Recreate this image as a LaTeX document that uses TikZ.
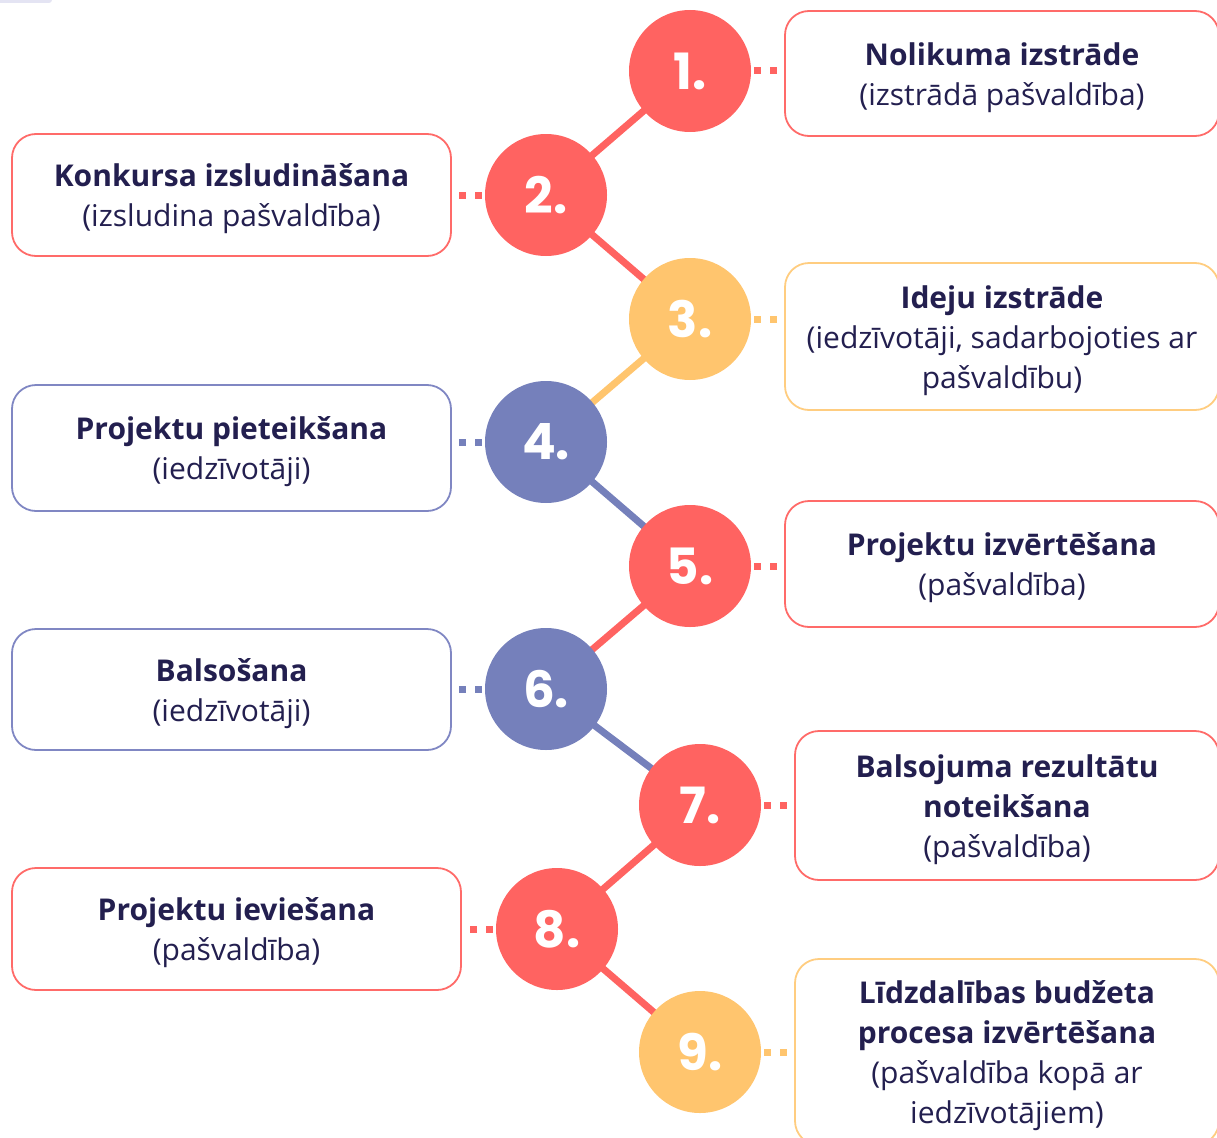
\documentclass[tikz,border=0pt]{standalone}
\usepackage{fontspec}
\setmainfont{Open Sans}
\newfontfamily\numfont{Poppins}
\usetikzlibrary{backgrounds}
\definecolor{cred}{HTML}{FF6361}
\definecolor{cyel}{HTML}{FFC56E}
\definecolor{cblue}{HTML}{7580BB}
\definecolor{bred}{HTML}{FF6B69}
\definecolor{byel}{HTML}{FFCD80}
\definecolor{bblue}{HTML}{8087C3}
\definecolor{navy}{HTML}{231F4F}
\definecolor{lav}{HTML}{E4E4F3}
\tikzset{
  stepcirc/.style={circle, fill=#1, minimum size=122pt, inner sep=0pt,
    text=white, font=\numfont\bfseries\fontsize{50}{50}\selectfont},
  stepbox/.style={draw=#1, line width=1.8pt, rounded corners=24pt, inner sep=0pt},
  steptext/.style={text=navy, align=center, inner sep=0pt, yshift=-4pt,
    font=\fontsize{30}{40}\selectfont},
  link/.style={line width=7pt, draw=#1},
  dots/.style={line width=7pt, draw=#1, dash pattern=on 0pt off 3pt on 7pt off 9pt on 7pt off 40pt}
}
\begin{document}
\begin{tikzpicture}[x=1pt,y=-1pt]
\useasboundingbox (0,0) rectangle (1217,1137);
\clip (0,0) rectangle (1217,1137);
\fill[lav, rounded corners=3pt] (-10,-10) rectangle (52,3);

% circles
\node[stepcirc=cred]  (c1) at (690,71)   {1.};
\node[stepcirc=cred]  (c2) at (546,195)  {2.};
\node[stepcirc=cyel]  (c3) at (690,319)  {3.};
\node[stepcirc=cblue] (c4) at (546,442)  {4.};
\node[stepcirc=cred]  (c5) at (690,566)  {5.};
\node[stepcirc=cblue] (c6) at (546,689)  {6.};
\node[stepcirc=cred]  (c7) at (700,805)  {7.};
\node[stepcirc=cred]  (c8) at (557,929)  {8.};
\node[stepcirc=cyel]  (c9) at (700,1052) {9.};

% boxes
\node[stepbox=bred,  minimum width=434pt, minimum height=125pt] (b1) at (1002,73.5) {};
\node[stepbox=bred,  minimum width=439pt, minimum height=122pt] (b2) at (231.5,195) {};
\node[stepbox=byel,  minimum width=434pt, minimum height=147pt] (b3) at (1002,336.5) {};
\node[stepbox=bblue, minimum width=439pt, minimum height=126pt] (b4) at (231.5,448) {};
\node[stepbox=bred,  minimum width=434pt, minimum height=126pt] (b5) at (1002,564) {};
\node[stepbox=bblue, minimum width=439pt, minimum height=121pt] (b6) at (231.5,689.5) {};
\node[stepbox=bred,  minimum width=424pt, minimum height=149pt] (b7) at (1007,805.5) {};
\node[stepbox=bred,  minimum width=449pt, minimum height=122pt] (b8) at (236.5,929) {};
\node[stepbox=byel,  minimum width=424pt, minimum height=186pt] (b9) at (1007,1052) {};

% box texts
\node[steptext] (t1) at (b1.center) {\textbf{Nolikuma izstrāde}\\(izstrādā pašvaldība)};
\node[steptext] (t2) at (b2.center) {\textbf{Konkursa izsludināšana}\\(izsludina pašvaldība)};
\node[steptext] (t3) at (b3.center) {\textbf{Ideju izstrāde}\\(iedzīvotāji, sadarbojoties ar\\pašvaldību)};
\node[steptext] (t4) at (b4.center) {\textbf{Projektu pieteikšana}\\(iedzīvotāji)};
\node[steptext] (t5) at (b5.center) {\textbf{Projektu izvērtēšana}\\(pašvaldība)};
\node[steptext] (t6) at (b6.center) {\textbf{Balsošana}\\(iedzīvotāji)};
\node[steptext] (t7) at (b7.center) {\textbf{Balsojuma rezultātu}\\\textbf{noteikšana}\\(pašvaldība)};
\node[steptext] (t8) at (b8.center) {\textbf{Projektu ieviešana}\\(pašvaldība)};
\node[steptext] (t9) at (b9.center) {\textbf{Līdzdalības budžeta}\\\textbf{procesa izvērtēšana}\\(pašvaldība kopā ar\\iedzīvotājiem)};

% dotted connectors
\draw[dots=cred]  (c1.east) -- (c1.east -| b1.west);
\draw[dots=cred]  (c2.west) -- (c2.west -| b2.east);
\draw[dots=cyel]  (c3.east) -- (c3.east -| b3.west);
\draw[dots=cblue] (c4.west) -- (c4.west -| b4.east);
\draw[dots=cred]  (c5.east) -- (c5.east -| b5.west);
\draw[dots=cblue] (c6.west) -- (c6.west -| b6.east);
\draw[dots=cred]  (c7.east) -- (c7.east -| b7.west);
\draw[dots=cred]  (c8.west) -- (c8.west -| b8.east);
\draw[dots=cyel]  (c9.east) -- (c9.east -| b9.west);

% links between circles
\begin{scope}[on background layer]
\draw[link=cred]  (c1.center) -- (c2.center);
\draw[link=cred]  (c2.center) -- (c3.center);
\draw[link=cyel]  (c3.center) -- (c4.center);
\draw[link=cblue] (c4.center) -- (c5.center);
\draw[link=cred]  (c5.center) -- (c6.center);
\draw[link=cblue] (c6.center) -- (c7.center);
\draw[link=cred]  (c7.center) -- (c8.center);
\draw[link=cred]  (c8.center) -- (c9.center);
\end{scope}
\end{tikzpicture}
\end{document}
